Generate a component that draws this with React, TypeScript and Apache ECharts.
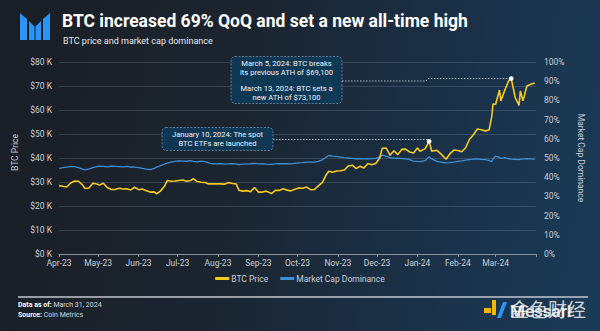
import React, { useEffect, useRef } from 'react';
import * as echarts from 'echarts';

// ---- data ----
const dates = [
  '2023-04-01','2023-04-04','2023-04-07','2023-04-10','2023-04-13','2023-04-16','2023-04-19','2023-04-21','2023-04-24','2023-04-27',
  '2023-04-30','2023-05-02','2023-05-05','2023-05-08','2023-05-11','2023-05-14','2023-05-17','2023-05-20','2023-05-23','2023-05-26',
  '2023-05-29','2023-06-01','2023-06-04','2023-06-07','2023-06-10','2023-06-13','2023-06-15','2023-06-18','2023-06-21','2023-06-23',
  '2023-06-26','2023-06-29','2023-07-02','2023-07-05','2023-07-08','2023-07-11','2023-07-13','2023-07-16','2023-07-19','2023-07-22',
  '2023-07-25','2023-07-28','2023-07-31','2023-08-03','2023-08-06','2023-08-09','2023-08-12','2023-08-15','2023-08-17','2023-08-20',
  '2023-08-23','2023-08-26','2023-08-29','2023-09-01','2023-09-04','2023-09-07','2023-09-11','2023-09-14','2023-09-17','2023-09-20',
  '2023-09-23','2023-09-26','2023-09-29','2023-10-02','2023-10-05','2023-10-08','2023-10-11','2023-10-14','2023-10-17','2023-10-20',
  '2023-10-23','2023-10-25','2023-10-28','2023-10-31','2023-11-03','2023-11-06','2023-11-09','2023-11-12','2023-11-15','2023-11-18',
  '2023-11-21','2023-11-24','2023-11-27','2023-11-30','2023-12-03','2023-12-05','2023-12-08','2023-12-11','2023-12-14','2023-12-17',
  '2023-12-20','2023-12-23','2023-12-26','2023-12-29','2024-01-01','2024-01-03','2024-01-07','2024-01-10','2024-01-12','2024-01-16',
  '2024-01-19','2024-01-23','2024-01-26','2024-01-29','2024-02-01','2024-02-04','2024-02-07','2024-02-10','2024-02-13','2024-02-16',
  '2024-02-19','2024-02-22','2024-02-25','2024-02-27','2024-02-28','2024-03-01','2024-03-04','2024-03-05','2024-03-08','2024-03-11',
  '2024-03-13','2024-03-16','2024-03-19','2024-03-20','2024-03-22','2024-03-25','2024-03-28','2024-03-31'
];

// BTC price, $K
const btcPrice = [
  28.5, 28.2, 27.9, 29.6, 30.4, 30.3, 28.8, 27.3, 27.5, 29.5,
  29.2, 28.7, 29.5, 27.7, 26.9, 26.9, 27.4, 27.1, 27.2, 26.7,
  27.8, 26.8, 27.1, 26.4, 25.8, 25.9, 25.1, 26.3, 28.3, 30.6,
  30.3, 30.4, 30.6, 30.8, 30.3, 30.6, 31.4, 30.2, 29.9, 29.8,
  29.2, 29.3, 29.2, 29.2, 29.1, 29.8, 29.4, 29.2, 26.6, 26.2,
  26.4, 26.0, 27.7, 25.8, 25.8, 26.2, 25.2, 26.5, 26.5, 27.2,
  26.6, 26.3, 27.0, 27.5, 27.4, 27.9, 26.8, 26.9, 28.4, 29.7,
  33.0, 34.5, 34.1, 34.6, 34.7, 35.0, 36.7, 37.0, 35.6, 36.6,
  35.8, 37.7, 37.2, 37.7, 39.9, 44.0, 44.2, 41.2, 43.0, 41.4,
  43.6, 43.7, 42.5, 42.1, 44.2, 42.8, 43.9, 47.0, 42.8, 43.2,
  41.7, 39.5, 41.8, 43.3, 43.1, 42.6, 44.3, 47.8, 49.7, 52.1,
  51.8, 51.3, 51.7, 57.1, 62.5, 62.4, 68.3, 63.8, 68.2, 72.1,
  73.1, 65.3, 61.9, 67.9, 63.8, 70.0, 70.7, 71.3
];

// BTC market cap dominance, %
const dominance = [
  44.6, 45.0, 45.3, 45.6, 45.5, 45.0, 44.2, 43.8, 44.3, 45.0,
  45.5, 45.8, 45.6, 45.4, 45.7, 45.6, 45.5, 45.4, 45.6, 45.3,
  45.2, 45.0, 44.6, 44.2, 43.9, 44.6, 45.2, 46.0, 46.8, 47.3,
  47.8, 48.2, 48.5, 48.4, 48.3, 48.6, 48.2, 48.0, 48.4, 48.1,
  47.5, 47.0, 46.9, 47.1, 46.8, 46.9, 47.0, 46.9, 46.6, 46.8,
  46.9, 47.0, 47.2, 46.9, 47.0, 46.8, 46.7, 46.9, 47.1, 47.0,
  47.0, 46.9, 47.2, 47.5, 47.6, 47.9, 47.8, 47.9, 48.3, 49.0,
  50.5, 51.3, 51.0, 50.8, 50.5, 50.2, 50.0, 49.8, 49.6, 49.7,
  49.5, 49.6, 49.7, 49.8, 50.4, 51.5, 51.0, 50.2, 49.8, 49.9,
  49.7, 49.5, 49.2, 48.4, 48.2, 48.1, 48.6, 50.7, 49.5, 48.2,
  47.8, 47.5, 47.6, 47.8, 48.2, 48.5, 48.9, 49.2, 49.4, 49.5,
  49.3, 49.2, 48.8, 48.1, 49.5, 51.0, 50.3, 49.8, 50.2, 49.6,
  49.4, 49.3, 49.2, 49.4, 49.5, 49.6, 49.5, 49.4
];

const monthTicks = [
  '2023-04-01','2023-05-01','2023-06-01','2023-07-01','2023-08-01','2023-09-01',
  '2023-10-01','2023-11-01','2023-12-01','2024-01-01','2024-02-01','2024-03-01'
];
const axisStart = '2023-04-01';
const axisEnd = '2024-04-01';
const monthNames = ['Jan','Feb','Mar','Apr','May','Jun','Jul','Aug','Sep','Oct','Nov','Dec'];

const etfEvent = { date: '2024-01-10', value: 47.0 };
const athEvent = { date: '2024-03-13', value: 73.1 };

const FONT = 'Roboto, "Noto Sans", sans-serif';
const LABEL = '#c9ced6';
const YELLOW = '#f7c81e';
const BLUE = '#3d8fd8';

const ts = (s: string) => new Date(s + 'T00:00:00').getTime();

export default function App() {
  const ref = useRef<HTMLDivElement>(null);

  useEffect(() => {
    const chart = echarts.init(ref.current!, null, { renderer: 'svg' });
    const btcData = dates.map((d, i) => [ts(d), btcPrice[i]]);
    const domData = dates.map((d, i) => [ts(d), dominance[i]]);
    const tickVals = monthTicks.map(ts);

    chart.setOption({
      animation: false,
      backgroundColor: 'transparent',
      grid: { left: 59, right: 64, top: 62, bottom: 77, containLabel: false },
      legend: {
        data: ['BTC Price', 'Market Cap Dominance'],
        left: 'center',
        top: 269,
        icon: 'rect',
        itemWidth: 14,
        itemHeight: 3,
        itemGap: 12,
        itemStyle: { borderWidth: 0 },
        textStyle: { color: LABEL, fontSize: 8.5, fontFamily: FONT, padding: [0, 0, 0, -3] },
      },
      xAxis: {
        type: 'value',
        min: ts(axisStart),
        max: ts(axisEnd),
        axisLine: { show: true, lineStyle: { color: '#8b939c', width: 1 } },
        axisTick: {
          show: true,
          customValues: [...tickVals, ts(axisEnd)],
          length: 3,
          lineStyle: { color: '#8b939c' },
        },
        axisLabel: {
          customValues: tickVals,
          color: LABEL,
          fontSize: 8.5,
          fontFamily: FONT,
          margin: 4,
          formatter: (v: number) => {
            const d = new Date(v);
            return monthNames[d.getMonth()] + '-' + String(d.getFullYear()).slice(2);
          },
        },
        splitLine: { show: false },
      },
      yAxis: [
        {
          type: 'value',
          min: 0,
          max: 80,
          interval: 10,
          name: 'BTC Price',
          nameLocation: 'middle',
          nameGap: 33,
          nameTextStyle: { color: LABEL, fontSize: 8.5, fontFamily: FONT, padding: [0, 0, 0, 11] },
          axisLine: { show: false },
          axisTick: { show: false },
          axisLabel: {
            color: LABEL,
            fontSize: 8.5,
            fontFamily: FONT,
            margin: 7,
            formatter: (v: number) => '$' + v + ' K',
          },
          splitLine: { show: true, lineStyle: { color: 'rgba(160,175,190,0.22)', width: 1 } },
        },
        {
          type: 'value',
          min: 0,
          max: 100,
          interval: 10,
          position: 'right',
          name: 'Market Cap Dominance',
          nameLocation: 'middle',
          nameRotate: -90,
          nameGap: 40,
          nameTextStyle: { color: LABEL, fontSize: 8.5, fontFamily: FONT },
          axisLine: { show: false },
          axisTick: { show: false },
          axisLabel: {
            color: LABEL,
            fontSize: 8.5,
            fontFamily: FONT,
            margin: 8,
            formatter: (v: number) => v + '%',
          },
          splitLine: { show: false },
        },
      ],
      series: [
        {
          name: 'BTC Price',
          type: 'line',
          data: btcData,
          yAxisIndex: 0,
          showSymbol: false,
          symbol: 'none',
          lineStyle: { color: YELLOW, width: 1.6 },
          itemStyle: { color: YELLOW },
          z: 3,
        },
        {
          name: 'Market Cap Dominance',
          type: 'line',
          data: domData,
          yAxisIndex: 1,
          showSymbol: false,
          symbol: 'none',
          lineStyle: { color: BLUE, width: 1.3 },
          itemStyle: { color: BLUE },
          z: 2,
        },
      ],
    });

    const etf = chart.convertToPixel({ xAxisIndex: 0, yAxisIndex: 0 }, [ts(etfEvent.date), etfEvent.value]) as number[];
    const ath = chart.convertToPixel({ xAxisIndex: 0, yAxisIndex: 0 }, [ts(athEvent.date), athEvent.value]) as number[];

    const boxStyle = {
      fill: 'rgba(14,58,88,0.92)',
      stroke: 'rgba(150,180,205,0.75)',
      lineWidth: 0.8,
      lineDash: [2, 1.5],
    };
    const annText = { fill: '#eef2f6', fontSize: 7.6, fontFamily: FONT, align: 'center', lineHeight: 9 };
    const dotted = { stroke: 'rgba(200,210,220,0.85)', lineWidth: 1, lineDash: [1.5, 1.5], fill: 'none' };

    chart.setOption({
      graphic: [
        // logo
        { type: 'polygon', shape: { points: [[20, 13], [27, 19], [27, 40], [20, 40]] }, style: { fill: '#2b95f5' } },
        { type: 'polygon', shape: { points: [[29, 21], [34.5, 26.5], [34.5, 40], [29, 40]] }, style: { fill: '#2b95f5' } },
        { type: 'polygon', shape: { points: [[35.5, 26.5], [41, 21], [41, 40], [35.5, 40]] }, style: { fill: '#2b95f5' } },
        { type: 'polygon', shape: { points: [[43, 19], [50, 13], [50, 40], [43, 40]] }, style: { fill: '#2b95f5' } },
        // title
        {
          type: 'text', left: 62, top: 12,
          style: { text: 'BTC increased 69% QoQ and set a new all-time high', fill: '#ffffff', fontSize: 17.5, fontWeight: 'bold', fontFamily: FONT },
        },
        {
          type: 'text', left: 63, top: 36,
          style: { text: 'BTC price and market cap dominance', fill: '#e6e9ee', fontSize: 9, fontFamily: FONT },
        },
        // ETF annotation
        {
          type: 'polyline',
          shape: { points: [[273, 139.5], [etf[0], 139.5], [etf[0], etf[1]]] },
          style: dotted, z: 10,
        },
        {
          type: 'rect', shape: { x: 162, y: 127.5, width: 111, height: 23, r: 4 }, style: boxStyle, z: 11,
        },
        {
          type: 'text', x: 217.5, y: 130, z: 12,
          style: { ...annText, text: 'January 10, 2024: The spot\nBTC ETFs are launched' },
        },
        { type: 'circle', shape: { cx: etf[0], cy: etf[1], r: 2.3 }, style: { fill: '#ffffff' }, z: 13 },
        // ATH annotation
        {
          type: 'polyline',
          shape: { points: [[342, 81], [426, 81], [428, ath[1]], [ath[0], ath[1]]] },
          style: dotted, z: 10,
        },
        {
          type: 'rect', shape: { x: 231, y: 56.5, width: 111, height: 47, r: 4 }, style: boxStyle, z: 11,
        },
        {
          type: 'text', x: 286.5, y: 59, z: 12,
          style: { ...annText, text: 'March 5, 2024: BTC breaks\nits previous ATH of $69,100' },
        },
        {
          type: 'text', x: 286.5, y: 83.5, z: 12,
          style: { ...annText, text: 'March 13, 2024: BTC sets a\nnew ATH of $73,100' },
        },
        { type: 'circle', shape: { cx: ath[0], cy: ath[1], r: 2.3 }, style: { fill: '#ffffff' }, z: 13 },
        // footer
        { type: 'line', shape: { x1: 18, y1: 297, x2: 588, y2: 297 }, style: { stroke: '#c3c8cf', lineWidth: 1.5 } },
        {
          type: 'text', left: 18, top: 301,
          style: {
            text: '{b|Data as of:} March 31, 2024',
            fill: '#d5d9df', fontSize: 7, fontFamily: FONT,
            rich: { b: { fontWeight: 'bold', fill: '#ffffff', fontSize: 7, fontFamily: FONT } },
          },
        },
        {
          type: 'text', left: 18, top: 311,
          style: {
            text: '{b|Source:} Coin Metrics',
            fill: '#d5d9df', fontSize: 7, fontFamily: FONT,
            rich: { b: { fontWeight: 'bold', fill: '#ffffff', fontSize: 7, fontFamily: FONT } },
          },
        },
        // watermark / brand
        { type: 'rect', shape: { x: 484, y: 308, width: 7, height: 5 }, style: { fill: '#f5b800' } },
        { type: 'rect', shape: { x: 492, y: 300, width: 4, height: 15 }, style: { fill: '#f5b800' } },
        { type: 'polygon', shape: { points: [[497, 318], [503, 302], [507, 302], [501, 318]] }, style: { fill: '#2b95f5' } },
        {
          type: 'text', left: 510, top: 302,
          style: { text: 'Messari', fill: 'rgba(255,255,255,0.85)', fontSize: 17, fontFamily: FONT, fontWeight: 'bold' },
        },
        {
          type: 'text', left: 510, top: 299,
          style: { text: '金色财经', fill: 'rgba(255,255,255,0.8)', fontSize: 19, fontFamily: '"Noto Sans CJK SC", sans-serif' },
        },
      ],
    });

    return () => chart.dispose();
  }, []);

  return (
    <div
      style={{
        position: 'fixed', left: 0, top: 0, width: 600, height: 331,
        background: 'linear-gradient(100deg, #1a1e25 0%, #1b2530 40%, #1a324a 75%, #1a3b57 100%)',
      }}
    >
      <div ref={ref} style={{ width: 600, height: 331 }} />
    </div>
  );
}
